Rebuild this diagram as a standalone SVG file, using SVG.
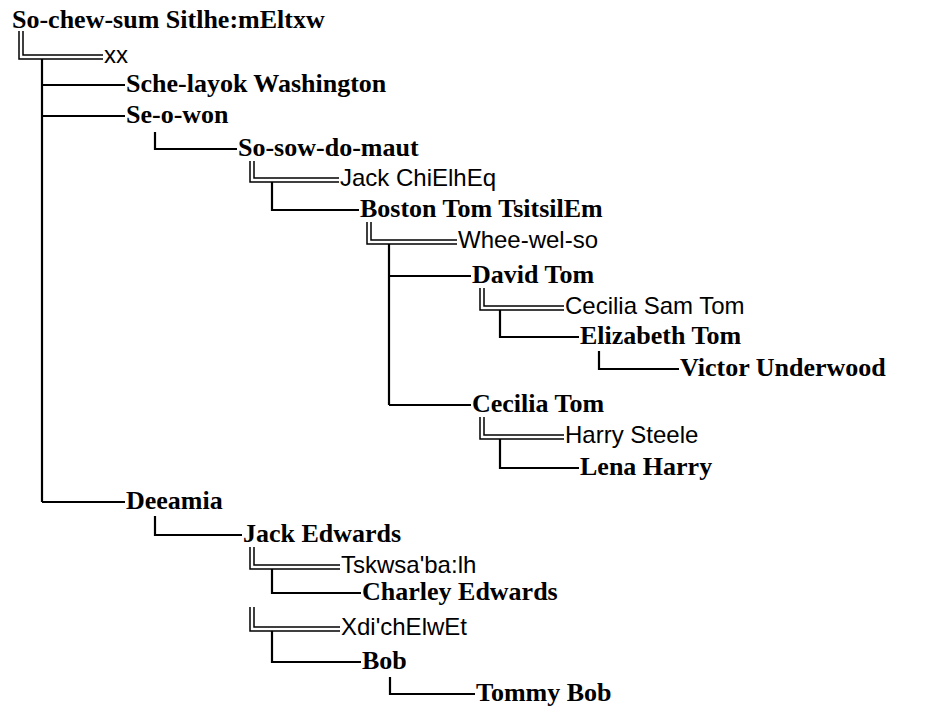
<svg xmlns="http://www.w3.org/2000/svg" width="929" height="706" viewBox="0 0 929 706">
<style>
.n{font-family:"Liberation Serif","Times New Roman",serif;font-weight:bold;font-size:26px;fill:#000}
.s{font-family:"Liberation Sans",Arial,sans-serif;font-size:24px;fill:#000}
.c{fill:none;stroke:#000;stroke-width:2.2}
.d{fill:none;stroke:#000;stroke-width:1.5}
</style>
<rect width="929" height="706" fill="#fff"/>
<g id="connectors">
<path class="d" d="M19 31V59H103M23 31V55H103"/>
<path class="c" d="M42 59V502M42 85H125M42 116H125M42 502H125"/>
<path class="c" d="M155 132V149H237"/>
<path class="d" d="M250 161V182H339M254 161V178H339"/>
<path class="c" d="M272 182V210H359"/>
<path class="d" d="M367 222V244H457M371 222V240H457"/>
<path class="c" d="M389 244V405M389 276H471M389 405H471"/>
<path class="d" d="M480 288V310H564M484 288V306H564"/>
<path class="c" d="M500 310V337H579"/>
<path class="c" d="M599 351V369H679"/>
<path class="d" d="M480 417V439H564M484 417V435H564"/>
<path class="c" d="M500 439V468H579"/>
<path class="c" d="M155 516V535H242"/>
<path class="d" d="M250 547V569H340M254 547V565H340"/>
<path class="c" d="M272 569V593H361"/>
<path class="d" d="M250 607V631H340M254 607V627H340"/>
<path class="c" d="M272 631V662H361"/>
<path class="c" d="M390 677V694H475"/>
</g>
<g id="n-sochewsum"><text class="n" x="12" y="28">So-chew-sum Sitlhe:mEltxw</text></g>
<g id="n-xx"><text class="s" x="104" y="63">xx</text></g>
<g id="n-schelayok"><text class="n" x="126" y="92">Sche-layok Washington</text></g>
<g id="n-seowon"><text class="n" x="126" y="123">Se-o-won</text></g>
<g id="n-sosowdomaut"><text class="n" x="238" y="156">So-sow-do-maut</text></g>
<g id="n-jackchielheq"><text class="s" x="340" y="186">Jack ChiElhEq</text></g>
<g id="n-bostontom"><text class="n" x="360" y="217">Boston Tom TsitsilEm</text></g>
<g id="n-wheewelso"><text class="s" x="458" y="248">Whee-wel-so</text></g>
<g id="n-davidtom"><text class="n" x="472" y="283">David Tom</text></g>
<g id="n-ceciliasamtom"><text class="s" x="565" y="314">Cecilia Sam Tom</text></g>
<g id="n-elizabethtom"><text class="n" x="580" y="344">Elizabeth Tom</text></g>
<g id="n-victorunderwood"><text class="n" x="680" y="376">Victor Underwood</text></g>
<g id="n-ceciliatom"><text class="n" x="472" y="412">Cecilia Tom</text></g>
<g id="n-harrysteele"><text class="s" x="565" y="443">Harry Steele</text></g>
<g id="n-lenaharry"><text class="n" x="580" y="475">Lena Harry</text></g>
<g id="n-deeamia"><text class="n" x="126" y="509">Deeamia</text></g>
<g id="n-jackedwards"><text class="n" x="243" y="542">Jack Edwards</text></g>
<g id="n-tskwsabalh"><text class="s" x="341" y="573">Tskwsa'ba:lh</text></g>
<g id="n-charleyedwards"><text class="n" x="362" y="600">Charley Edwards</text></g>
<g id="n-xdichelwet"><text class="s" x="341" y="635">Xdi'chElwEt</text></g>
<g id="n-bob"><text class="n" x="362" y="669">Bob</text></g>
<g id="n-tommybob"><text class="n" x="476" y="701">Tommy Bob</text></g>
</svg>
